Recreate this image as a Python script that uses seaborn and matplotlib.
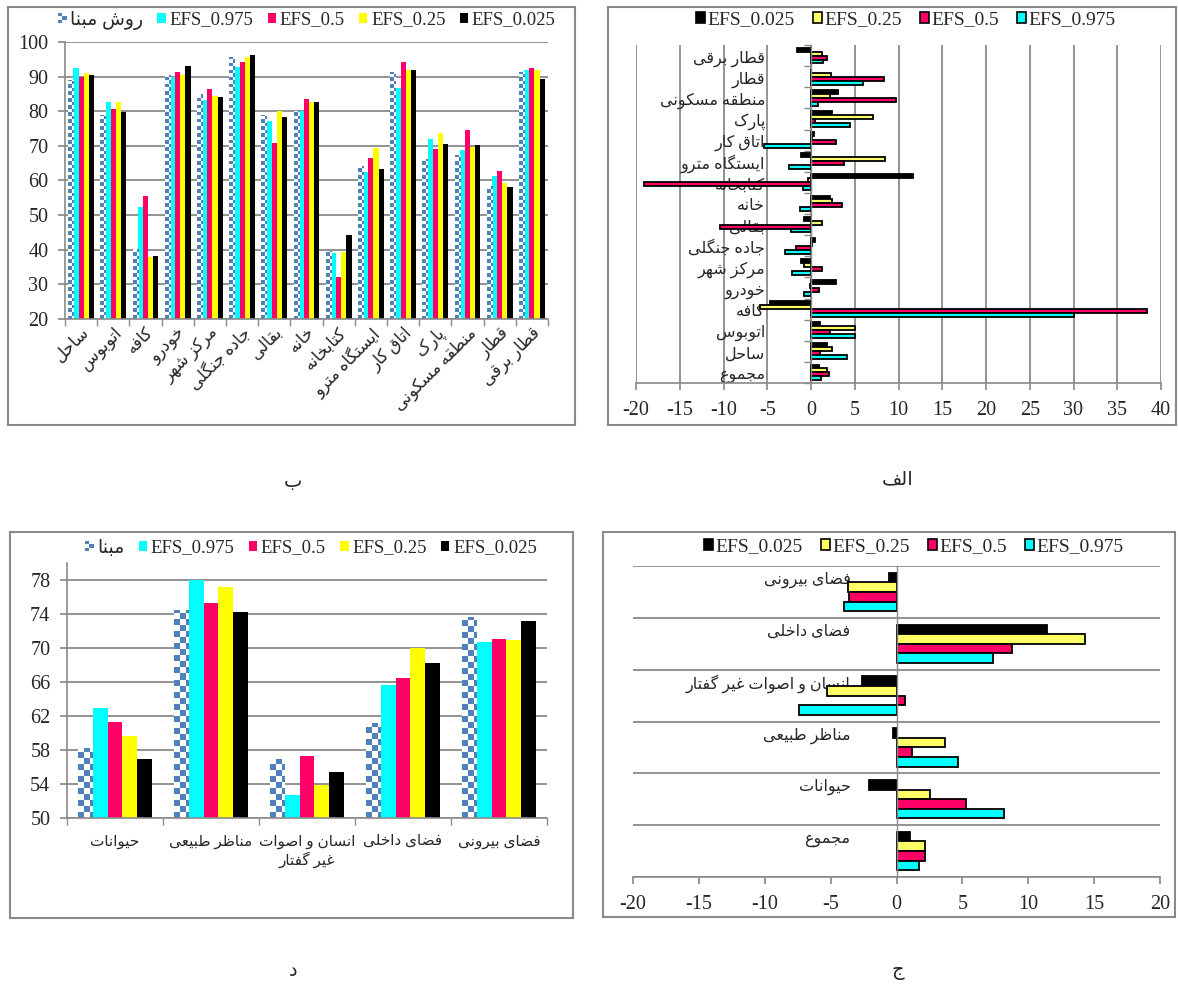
import numpy as np
import pandas as pd
import matplotlib
matplotlib.use("Agg")
import matplotlib.pyplot as plt
import seaborn as sns
from matplotlib.patches import Rectangle, Patch
from matplotlib.colors import ListedColormap, to_rgba
from matplotlib.ticker import FixedLocator
from matplotlib.legend_handler import HandlerBase

# ---------------- data ----------------
# panel ب (top-left): recognition accuracy per scene
cats_b = ['ساحل', 'اتوبوس', 'کافه', 'خودرو', 'مرکز شهر', 'جاده جنگلی', 'بقالی', 'خانه',
          'کتابخانه', 'ایستگاه مترو', 'اتاق کار', 'پارک', 'منطقه مسکونی', 'قطار', 'قطار برقی']
series_b = ['روش مبنا', 'EFS_0.975', 'EFS_0.5', 'EFS_0.25', 'EFS_0.025']
base_b = [88.9, 78.8, 40.1, 90.6, 85.1, 95.7, 78.8, 80.0, 39.5, 64.1, 91.2, 66.2, 67.5, 58.3, 91.3]
e0975_b = [92.4, 82.8, 52.3, 90.0, 83.3, 92.9, 77.2, 80.0, 39.2, 62.5, 86.6, 72.0, 68.8, 61.3, 92.0]
e05_b = [89.8, 80.6, 55.6, 91.4, 86.3, 94.1, 70.7, 83.6, 32.0, 66.5, 94.1, 69.1, 74.7, 62.8, 92.4]
e025_b = [91.0, 82.8, 38.0, 90.5, 84.4, 95.6, 80.0, 82.6, 39.3, 69.4, 91.9, 73.6, 69.7, 59.3, 91.9]
e0025_b = [90.6, 79.8, 38.2, 93.1, 84.0, 96.2, 78.3, 82.6, 44.3, 63.4, 91.9, 70.5, 70.3, 58.1, 89.3]

# panel الف (top-right): improvement per scene (top to bottom)
cats_a = ['قطار برقی', 'قطار', 'منطقه مسکونی', 'پارک', 'اتاق کار', 'ایستگاه مترو', 'کتابخانه',
          'خانه', 'بقالی', 'جاده جنگلی', 'مرکز شهر', 'خودرو', 'کافه', 'اتوبوس', 'ساحل', 'مجموع']
series_h = ['EFS_0.025', 'EFS_0.25', 'EFS_0.5', 'EFS_0.975']
e0025_a = [-1.6, 0.0, 3.1, 2.4, 0.3, -1.15, 11.7, 2.2, -0.8, 0.4, -1.1, 2.8, -4.7, 1.0, 1.85, 0.9]
e025_a = [1.2, 2.3, 2.2, 7.1, 0.1, 8.5, -0.3, 2.4, 1.3, 0.1, -0.8, -0.1, -5.8, 5.0, 2.4, 1.8]
e05_a = [1.8, 8.3, 9.7, 0.5, 2.8, 3.8, -19.1, 3.5, -10.4, -1.7, 1.3, 0.9, 38.4, 2.2, 1.0, 2.1]
e0975_a = [1.4, 5.9, 0.85, 4.5, -5.4, -2.5, -0.9, -1.3, -2.3, -3.0, -2.2, -0.85, 30.0, 5.0, 4.1, 1.15]

# panel د (bottom-left): accuracy per class
cats_d = ['حیوانات', 'مناظر طبیعی', 'انسان و اصوات\nغیر گفتار', 'فضای داخلی', 'فضای بیرونی']
series_d = ['مبنا', 'EFS_0.975', 'EFS_0.5', 'EFS_0.25', 'EFS_0.025']
base_d = [58.2, 74.5, 56.9, 61.2, 73.6]
e0975_d = [62.9, 78.0, 52.7, 65.7, 70.7]
e05_d = [61.3, 75.3, 57.3, 66.5, 71.1]
e025_d = [59.7, 77.2, 53.9, 70.0, 71.0]
e0025_d = [56.9, 74.2, 55.4, 68.2, 73.2]

# panel ج (bottom-right): improvement per class (top to bottom)
cats_j = ['فضای بیرونی', 'فضای داخلی', 'انسان و اصوات غیر گفتار', 'مناظر طبیعی', 'حیوانات', 'مجموع']
e0025_j = [-0.6, 11.4, -2.6, -0.3, -2.1, 1.0]
e025_j = [-3.7, 14.3, -5.3, 3.7, 2.55, 2.2]
e05_j = [-3.6, 8.8, 0.65, 1.15, 5.3, 2.15]
e0975_j = [-4.0, 7.35, -7.4, 4.7, 8.15, 1.7]

captions = ['ب', 'الف', 'د', 'ج']

# ---------------- Arabic-script shaping (presentation forms + visual order) ----------------
_FORMS = {
    0x0622: (0xFE81, 0xFE82, None, None), 0x0627: (0xFE8D, 0xFE8E, None, None),
    0x0628: (0xFE8F, 0xFE90, 0xFE91, 0xFE92), 0x067E: (0xFB56, 0xFB57, 0xFB58, 0xFB59),
    0x062A: (0xFE95, 0xFE96, 0xFE97, 0xFE98), 0x062B: (0xFE99, 0xFE9A, 0xFE9B, 0xFE9C),
    0x062C: (0xFE9D, 0xFE9E, 0xFE9F, 0xFEA0), 0x0686: (0xFB7A, 0xFB7B, 0xFB7C, 0xFB7D),
    0x062D: (0xFEA1, 0xFEA2, 0xFEA3, 0xFEA4), 0x062E: (0xFEA5, 0xFEA6, 0xFEA7, 0xFEA8),
    0x062F: (0xFEA9, 0xFEAA, None, None), 0x0630: (0xFEAB, 0xFEAC, None, None),
    0x0631: (0xFEAD, 0xFEAE, None, None), 0x0632: (0xFEAF, 0xFEB0, None, None),
    0x0698: (0xFB8A, 0xFB8B, None, None),
    0x0633: (0xFEB1, 0xFEB2, 0xFEB3, 0xFEB4), 0x0634: (0xFEB5, 0xFEB6, 0xFEB7, 0xFEB8),
    0x0635: (0xFEB9, 0xFEBA, 0xFEBB, 0xFEBC), 0x0636: (0xFEBD, 0xFEBE, 0xFEBF, 0xFEC0),
    0x0637: (0xFEC1, 0xFEC2, 0xFEC3, 0xFEC4), 0x0638: (0xFEC5, 0xFEC6, 0xFEC7, 0xFEC8),
    0x0639: (0xFEC9, 0xFECA, 0xFECB, 0xFECC), 0x063A: (0xFECD, 0xFECE, 0xFECF, 0xFED0),
    0x0641: (0xFED1, 0xFED2, 0xFED3, 0xFED4), 0x0642: (0xFED5, 0xFED6, 0xFED7, 0xFED8),
    0x06A9: (0xFB8E, 0xFB8F, 0xFB90, 0xFB91), 0x06AF: (0xFB92, 0xFB93, 0xFB94, 0xFB95),
    0x0644: (0xFEDD, 0xFEDE, 0xFEDF, 0xFEE0), 0x0645: (0xFEE1, 0xFEE2, 0xFEE3, 0xFEE4),
    0x0646: (0xFEE5, 0xFEE6, 0xFEE7, 0xFEE8), 0x0647: (0xFEE9, 0xFEEA, 0xFEEB, 0xFEEC),
    0x0648: (0xFEED, 0xFEEE, None, None), 0x06CC: (0xFBFC, 0xFBFD, 0xFBFE, 0xFBFF),
}


def _shape_line(s):
    s = s.replace('\u0643', '\u06A9').replace('\u064A', '\u06CC')
    if not any(ord(c) in _FORMS for c in s):
        return s
    out = []
    n = len(s)
    for i, ch in enumerate(s):
        cp = ord(ch)
        if cp not in _FORMS:
            out.append(ch)
            continue
        prv = ord(s[i - 1]) if i > 0 else None
        nxt = ord(s[i + 1]) if i < n - 1 else None
        iso, fin, ini, med = _FORMS[cp]
        jp = prv in _FORMS and _FORMS[prv][2] is not None
        jn = nxt in _FORMS and ini is not None
        if jp and jn:
            f = med
        elif jp:
            f = fin
        elif jn:
            f = ini
        else:
            f = iso
        out.append(chr(f))
    return ''.join(reversed(out))


def shape(s):
    return '\n'.join(_shape_line(l) for l in s.split('\n'))


# ---------------- style ----------------
sns.set_theme(style="white")
plt.rcParams['font.family'] = ['Liberation Serif', 'DejaVu Sans']
plt.rcParams['axes.unicode_minus'] = False

W, H = 1178, 986
GREY = '#8a8a8a'
BLUE = '#4F81BD'
CYAN, PINK, YEL, BLK = '#00FFFF', '#FF0066', '#FFFF00', '#000000'
YEL_L = '#FFFF66'
TICK_FS = 14.5
fig = plt.figure(figsize=(W / 100, H / 100), dpi=100, facecolor='white')


def box(l, t, r, b):
    return [l / W, 1 - b / H, (r - l) / W, (b - t) / H]


def fxy(x, y):
    return (x / W, 1 - y / H)


class CheckerHandler(HandlerBase):
    def __init__(self, color, nx=2, ny=3):
        super().__init__()
        self.color, self.nx, self.ny = color, nx, ny

    def create_artists(self, legend, orig_handle, xdescent, ydescent, width, height, fontsize, trans):
        arts = []
        cw, ch = width / self.nx, height / self.ny
        for i in range(self.nx):
            for j in range(self.ny):
                if (i + j) % 2 == 0:
                    arts.append(Rectangle((-xdescent + i * cw, -ydescent + j * ch), cw, ch,
                                          facecolor=self.color, edgecolor='none', transform=trans))
        return arts


def checker_fill(ax, patch, cell):
    x0, w = patch.get_x(), patch.get_width()
    y0, h = patch.get_y(), patch.get_height()
    ylo = max(min(y0, y0 + h), ax.get_ylim()[0])
    yhi = max(y0, y0 + h)
    px0, py0 = ax.transData.transform((x0, ylo))
    px1, py1 = ax.transData.transform((x0 + w, yhi))
    nx = max(1, int(np.ceil((px1 - px0) / cell)))
    ny = max(1, int(np.ceil((py1 - py0) / cell)))
    arr = np.add.outer(np.arange(ny), np.arange(nx)) % 2
    ex = ax.transData.inverted().transform((px0 + nx * cell, py0 + ny * cell))
    im = ax.imshow(arr, extent=(x0, ex[0], ylo, ex[1]), origin='lower',
                   cmap=ListedColormap([BLUE, 'white']), vmin=0, vmax=1,
                   interpolation='nearest', aspect='auto', zorder=2)
    im.set_clip_path(patch)


def long_df(cats, names, vals):
    return pd.DataFrame({'cat': [c for _ in names for c in cats],
                         'series': [s for s in names for _ in cats],
                         'val': [v for vs in vals for v in vs]})


def vertical_panel(bx, cats, names, vals, colors, ylim, ystep, width, cell, rotate, lab_fs, lab_pad,
                   leg_xy, leg_fs, colsp):
    ax = fig.add_axes(bx)
    df = long_df(cats, names, vals)
    sns.barplot(data=df, x='cat', y='val', hue='series', order=cats, hue_order=names,
                palette=dict(zip(names, colors)), width=width, saturation=1, errorbar=None,
                legend=False, linewidth=0, ax=ax)
    n = len(cats)
    ax.set_xlim(-0.5, n - 0.5)
    ax.set_ylim(*ylim)
    ax.set_autoscale_on(False)
    ax.set_xlabel('')
    ax.set_ylabel('')
    ax.yaxis.set_major_locator(FixedLocator(np.arange(ylim[0], ylim[1] + 0.01, ystep)))
    ax.grid(axis='y', color=GREY, lw=1.3)
    ax.set_axisbelow(True)
    for s in ['top', 'right']:
        ax.spines[s].set_visible(False)
    for s in ['left', 'bottom']:
        ax.spines[s].set_color(GREY)
        ax.spines[s].set_linewidth(1.2)
    ax.tick_params(axis='y', which='major', left=True, length=5, color=GREY, direction='out',
                   labelsize=TICK_FS, pad=7)
    ax.set_xticks(range(n))
    if rotate:
        ax.set_xticklabels([shape(c) for c in cats], rotation=45, ha='right',
                           rotation_mode='anchor', fontsize=lab_fs)
    else:
        ax.set_xticklabels([shape(c) for c in cats], fontsize=lab_fs, linespacing=1.2)
    ax.set_xticks(np.arange(-0.5, n), minor=True)
    ax.tick_params(axis='x', which='major', length=0, pad=lab_pad)
    ax.tick_params(axis='x', which='minor', bottom=True, length=5, color=GREY, direction='out')
    base_rgba = to_rgba(colors[0])
    for p in list(ax.patches):
        if np.allclose(p.get_facecolor(), base_rgba):
            p.set_facecolor('white')
            checker_fill(ax, p, cell)
    ax.set_xlim(-0.5, n - 0.5)
    ax.set_ylim(*ylim)
    base_h = Patch(facecolor='white')
    handles = [base_h] + [Patch(facecolor=c, edgecolor='none') for c in colors[1:]]
    ax.legend(handles, [shape(s) for s in names], ncol=5, loc='center', bbox_to_anchor=leg_xy,
              bbox_transform=fig.transFigure, frameon=False, fontsize=leg_fs,
              handlelength=0.45, handleheight=0.45, handletextpad=0.2, columnspacing=colsp,
              borderpad=0, borderaxespad=0, handler_map={base_h: CheckerHandler(BLUE)})
    return ax


def horizontal_panel(bx, cats, names, vals, colors, xlim, width, lab_dy, lab_fs, grid_cats, leg_xy):
    ax = fig.add_axes(bx)
    df = long_df(cats, names, vals)
    sns.barplot(data=df, x='val', y='cat', hue='series', order=cats, hue_order=names,
                palette=dict(zip(names, colors)), orient='h', width=width, saturation=1,
                errorbar=None, legend=False, edgecolor='black', linewidth=1.3, ax=ax)
    n = len(cats)
    ax.set_xlim(*xlim)
    ax.set_ylim(n - 0.5, -0.5)
    ax.set_xlabel('')
    ax.set_ylabel('')
    ax.set_xticks(np.arange(xlim[0], xlim[1] + 0.1, 5))
    ax.tick_params(axis='x', which='major', bottom=True, length=5, color=GREY, direction='out',
                   labelsize=TICK_FS, pad=8)
    for s in ['top', 'right']:
        ax.spines[s].set_visible(False)
    ax.spines['bottom'].set_color(GREY)
    ax.spines['bottom'].set_linewidth(1.2)
    ax.spines['left'].set_position(('data', 0))
    ax.spines['left'].set_color(GREY)
    ax.spines['left'].set_linewidth(1.0)
    ax.set_yticks(np.arange(n))
    ax.set_yticklabels([])
    ax.tick_params(axis='y', which='major', length=0)
    ax.set_yticks(np.arange(-0.5, n), minor=True)
    if grid_cats:
        ax.grid(axis='y', which='minor', color=GREY, lw=1.3)
        ax.tick_params(axis='y', which='minor', length=0)
    else:
        ax.grid(axis='x', which='major', color=GREY, lw=1.3)
        ax.tick_params(axis='y', which='minor', left=True, length=5, color=GREY, direction='out')
    ax.set_axisbelow(True)
    for i, c in enumerate(cats):
        ax.annotate(shape(c), xy=(0, i), xycoords='data', xytext=(-46, lab_dy),
                    textcoords='offset pixels', ha='right', va='center', fontsize=lab_fs, zorder=0.8)
    handles = [Patch(facecolor=c, edgecolor='black', linewidth=1.2) for c in colors]
    ax.legend(handles, names, ncol=4, loc='center', bbox_to_anchor=leg_xy,
              bbox_transform=fig.transFigure, frameon=False, fontsize=14,
              handlelength=0.45, handleheight=0.45, handletextpad=0.12, columnspacing=0.95,
              borderpad=0, borderaxespad=0)
    return ax


# ---- panel ب ----
vertical_panel(box(65, 42, 548, 319), cats_b, series_b,
               [base_b, e0975_b, e05_b, e025_b, e0025_b],
               [BLUE, CYAN, PINK, YEL, BLK], (20, 100), 10, 0.8, 3.5, True, 12, 4,
               fxy(307, 20), 13.5, 0.75)

# ---- panel الف ----
horizontal_panel(box(636, 45, 1161, 383), cats_a, series_h,
                 [e0025_a, e025_a, e05_a, e0975_a],
                 [BLK, YEL_L, PINK, CYAN], (-20, 40), 0.75, -3, 11.5, False, fxy(906, 20))

# ---- panel د ----
vertical_panel(box(67, 563, 547, 818), cats_d, series_d,
               [base_d, e0975_d, e05_d, e025_d, e0025_d],
               [BLUE, CYAN, PINK, YEL, BLK], (50, 80), 4, 0.77, 6, False, 11, 12,
               fxy(311, 548), 13.5, 0.75)

# ---- panel ج ----
horizontal_panel(box(633, 566, 1160, 877), cats_j, series_h,
                 [e0025_j, e025_j, e05_j, e0975_j],
                 [BLK, YEL_L, PINK, CYAN], (-20, 20), 0.74, 12, 11.5, True, fxy(914, 547))

# ---- panel frames and captions ----
for (l, t, r, b) in [(8, 7, 575, 425), (608, 7, 1176, 425), (10, 532, 573, 918), (603, 532, 1175, 917)]:
    fig.add_artist(Rectangle((l / W, 1 - b / H), (r - l) / W, (b - t) / H, transform=fig.transFigure,
                             fill=False, edgecolor=GREY, linewidth=1.5))
for cap, (x, y) in zip(captions, [(293, 482), (898, 480), (293, 972), (898, 972)]):
    fig.text(*fxy(x, y), shape(cap), ha='center', va='center', fontsize=14)

fig.savefig('out.png', dpi=100, facecolor='white')
